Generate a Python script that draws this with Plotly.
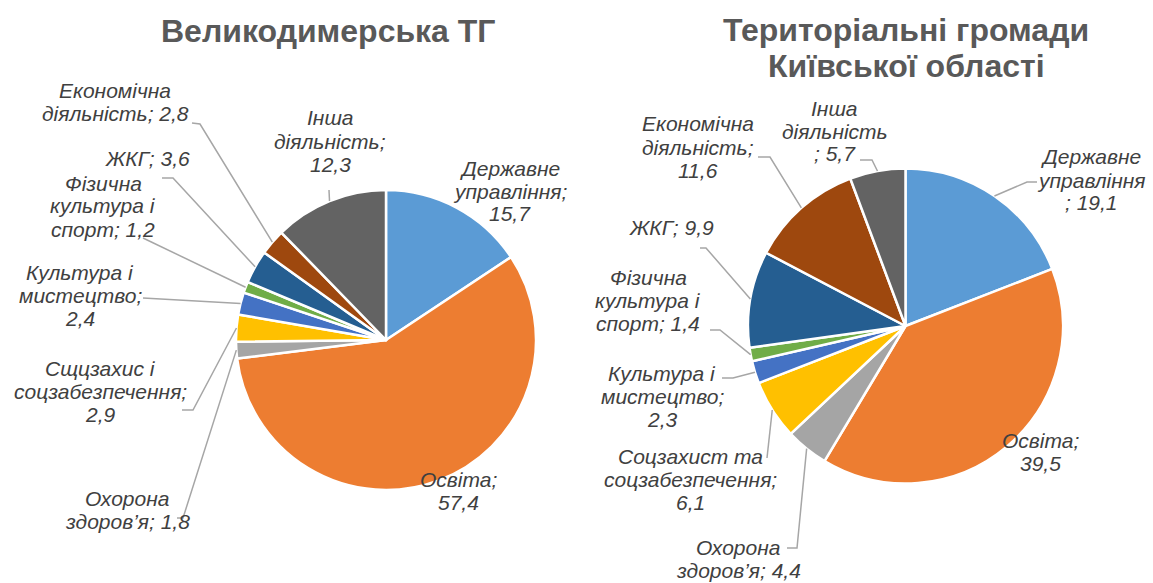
import math
import plotly.graph_objects as go

W, H = 1153, 583

categories_left = ["Державне управління", "Освіта", "Охорона здоров’я",
                   "Сщцзахис і соцзабезпечення", "Культура і мистецтво",
                   "Фізична культура і спорт", "ЖКГ", "Економічна діяльність",
                   "Інша діяльність"]
values_left = [15.7, 57.4, 1.8, 2.9, 2.4, 1.2, 3.6, 2.8, 12.3]

categories_right = ["Державне управління", "Освіта", "Охорона здоров’я",
                    "Соцзахист та соцзабезпечення", "Культура і мистецтво",
                    "Фізична культура і спорт", "ЖКГ", "Економічна діяльність",
                    "Інша діяльність"]
values_right = [19.1, 39.5, 4.4, 6.1, 2.3, 1.4, 9.9, 11.6, 5.7]

title_left = ["Великодимерська ТГ"]
title_right = ["Територіальні громади", "Київської області"]

colors = ["#5B9BD5", "#ED7D31", "#A5A5A5", "#FFC000", "#4472C4",
          "#70AD47", "#255E91", "#9E480E", "#636363"]

# label text layout (line breaks) for each slice
text_left = ["Державне<br>управління;<br>{}", "Освіта;<br>{}", "Охорона<br>здоров’я; {}",
             "Сщцзахис і<br>соцзабезпечення;<br>{}", "Культура і<br>мистецтво;<br>{}",
             "Фізична<br>культура і<br>спорт; {}", "ЖКГ; {}", "Економічна<br>діяльність; {}",
             "Інша<br>діяльність;<br>{}"]
text_right = ["Державне<br>управління<br>; {}", "Освіта;<br>{}", "Охорона<br>здоров’я; {}",
              "Соцзахист та<br>соцзабезпечення;<br>{}", "Культура і<br>мистецтво;<br>{}",
              "Фізична<br>культура і<br>спорт; {}", "ЖКГ; {}", "Економічна<br>діяльність;<br>{}",
              "Інша<br>діяльність<br>; {}"]

# layout: pie centre/radius (px), label centres (px), leader elbow & end (px)
pie_left = dict(cx=386, cy=340, r=150)
pie_right = dict(cx=905.5, cy=326, r=157.5)

lab_pos_left = [(510, 191), (458, 491), (127, 510), (100, 391), (80, 295),
                (103, 206), (147, 158), (115, 102), (330, 141)]
leader_left = [None, None, ((183, 518), (177, 518)), ((193, 410), (182, 410)),
               ((143, 298), (143, 298)), ((143, 238), (143, 238)),
               ((173, 178), (162, 178)), ((200, 124), (192, 123)),
               ((329, 190), (329, 190))]

lab_pos_right = [(1091, 180), (1040, 452), (738, 559), (690, 479), (662, 396),
                 (648, 300), (672, 228), (698, 147), (835, 131)]
leader_right = [((1027, 182), (1037, 182)), None, ((797, 548), (787, 548)),
                ((767, 458), (767, 458)), ((733, 378), (722, 378)),
                ((720, 330), (710, 330)), ((706, 248), (700, 248)),
                ((770, 157), (758, 157)), ((872, 160), (860, 160))]

FONT = "Liberation Sans, Arial, sans-serif"
LABEL_COLOR = "#404040"
LINE_COLOR = "#A6A6A6"
LABEL_SIZE = 21
LABEL_LINE = 23


def px(x, y):
    return x / W, 1 - y / H


fig = go.Figure()
annotations = []
shapes = []


def add_text_block(lines, cx, cy, step, font):
    n = len(lines)
    for i, line in enumerate(lines):
        ax, ay = px(cx, cy + (i - (n - 1) / 2) * step)
        annotations.append(dict(
            x=ax, y=ay, xref="paper", yref="paper", text=line,
            showarrow=False, xanchor="center", yanchor="middle", align="center",
            font=font))


def add_pie(cats, vals, pie, texts, lab_pos, leaders):
    cx, cy, r = pie["cx"], pie["cy"], pie["r"]
    x0, y1 = px(cx - r, cy - r)
    x1, y0 = px(cx + r, cy + r)
    fig.add_trace(go.Pie(
        labels=cats, values=vals, sort=False, direction="clockwise", rotation=0,
        marker=dict(colors=colors, line=dict(color="white", width=2.5)),
        textinfo="none", hoverinfo="label+value", showlegend=False,
        domain=dict(x=[x0, x1], y=[y0, y1])))
    total = sum(vals)
    cum = 0
    lab_font = dict(family=FONT, size=LABEL_SIZE, color=LABEL_COLOR, style="italic")
    for v, t, (lx, ly), ld in zip(vals, texts, lab_pos, leaders):
        mid = (cum + v / 2) / total * 2 * math.pi
        cum += v
        val_txt = f"{v:.1f}".replace(".", ",")
        add_text_block(t.format(val_txt).split("<br>"), lx, ly, LABEL_LINE, lab_font)
        if ld is not None:
            sx = cx + r * math.sin(mid)
            sy = cy - r * math.cos(mid)
            (ex, ey), (tx, ty) = ld
            pts = [px(sx, sy), px(ex, ey), px(tx, ty)]
            path = "M {} {} L {} {} L {} {}".format(*[c for p in pts for c in p])
            shapes.append(dict(type="path", xref="paper", yref="paper", path=path,
                               line=dict(color=LINE_COLOR, width=1.5)))


add_pie(categories_left, values_left, pie_left, text_left, lab_pos_left, leader_left)
add_pie(categories_right, values_right, pie_right, text_right, lab_pos_right, leader_right)

title_font = dict(family=FONT, size=32, color="#595959", weight="bold")
add_text_block(title_left, 328, 31, 35, title_font)
add_text_block(title_right, 906, 48, 35, title_font)

fig.update_layout(width=W, height=H, margin=dict(l=0, r=0, t=0, b=0),
                  paper_bgcolor="white", plot_bgcolor="white",
                  annotations=annotations, shapes=shapes)

fig.write_html("out.html", config={"displayModeBar": False},
               post_script="document.body.style.margin='0';document.body.style.overflow='hidden';")
